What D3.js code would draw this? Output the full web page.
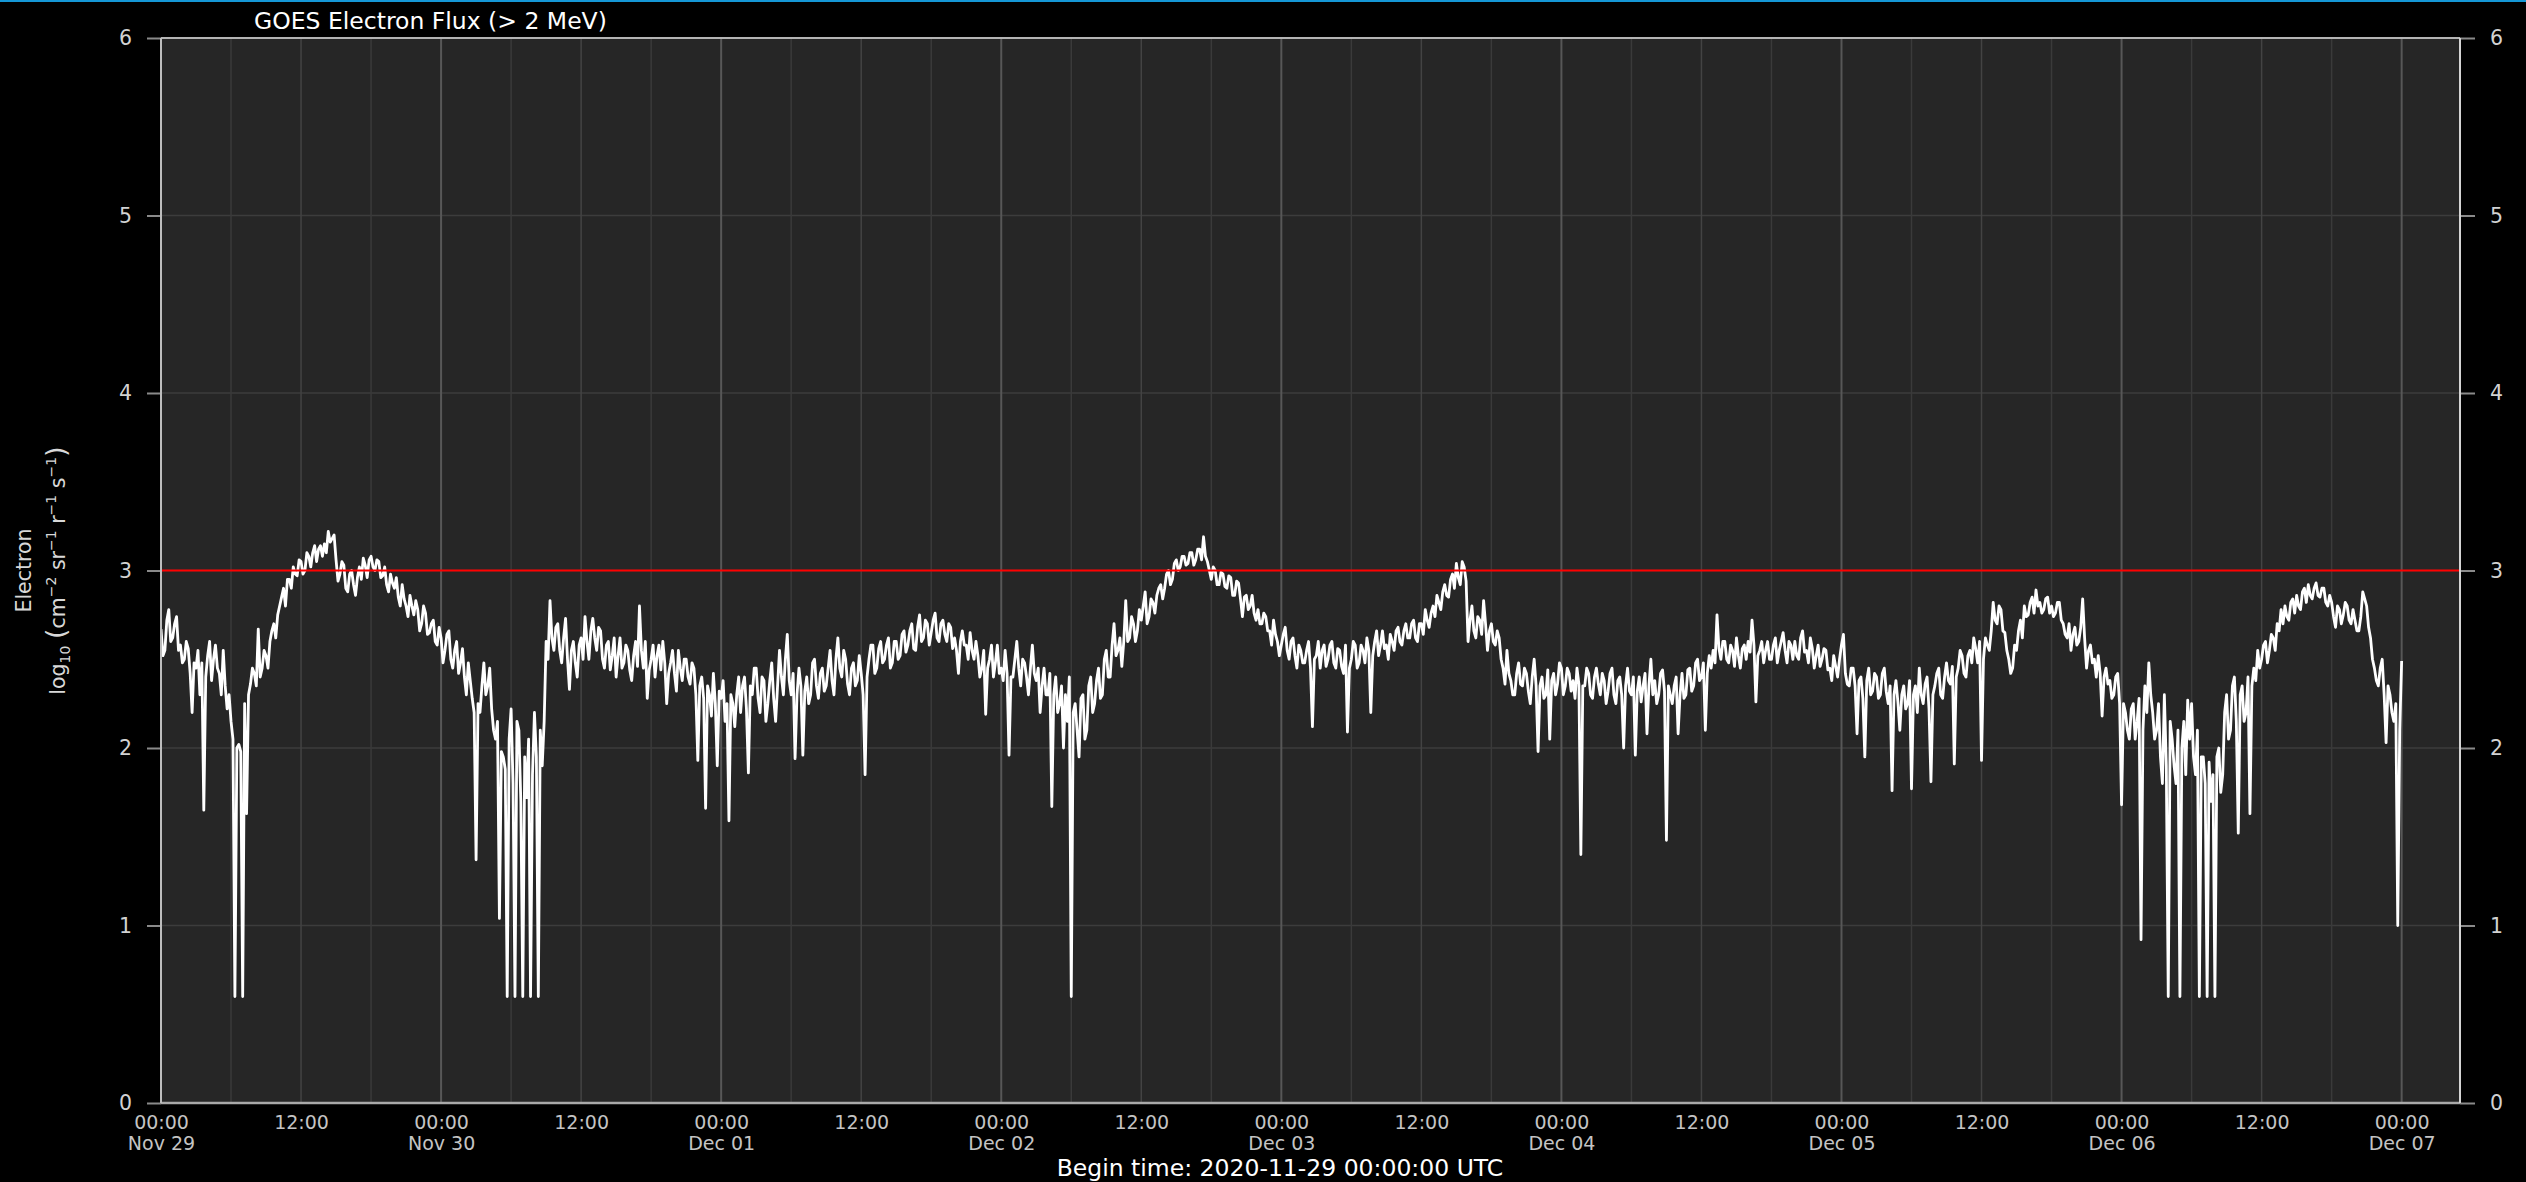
<!DOCTYPE html>
<html>
<head>
<meta charset="utf-8">
<script src="https://cdn.jsdelivr.net/npm/d3@7"></script>
<style>
  html, body { margin: 0; padding: 0; background: #000; }
  svg { display: block; font-family: "DejaVu Sans", sans-serif; }
</style>
</head>
<body>
<svg id="chart" width="2526" height="1182"></svg>
<script>
// ---- data ----------------------------------------------------------------
const chartTitle = "GOES Electron Flux (> 2 MeV)";
const beginLabel = "Begin time: 2020-11-29 00:00:00 UTC";
const startTime = Date.UTC(2020, 10, 29, 0, 0, 0);
const endTime = Date.UTC(2020, 11, 7, 5, 0, 0);
const cadenceMinutes = 10;          // one sample every 10 minutes
const alertLevel = 3;               // log10 flux alert threshold
const yTickValues = [0, 1, 2, 3, 4, 5, 6];

// log10 electron flux, 6 samples per hour (one row = one hour) from Nov 29 00:00 UTC
const flux = [
  // Nov 29
  2.67, 2.52, 2.55, 2.72, 2.78, 2.60,
  2.62, 2.70, 2.74, 2.55, 2.58, 2.48,
  2.50, 2.60, 2.56, 2.42, 2.20, 2.48,
  2.45, 2.55, 2.30, 2.48, 1.65, 2.40,
  2.52, 2.60, 2.38, 2.50, 2.58, 2.45,
  2.42, 2.30, 2.55, 2.35, 2.22, 2.30,
  2.15, 2.05, 0.60, 2.00, 2.02, 1.98,
  0.60, 2.25, 1.63, 2.30, 2.36, 2.45,
  2.42, 2.35, 2.67, 2.40, 2.45, 2.55,
  2.52, 2.45, 2.60, 2.66, 2.70, 2.62,
  2.75, 2.80, 2.85, 2.90, 2.80, 2.95,
  2.95, 2.90, 3.02, 2.98, 2.97, 3.06,
  3.05, 2.98, 3.00, 3.10, 3.08, 3.02,
  3.10, 3.14, 3.05, 3.12, 3.14, 3.08,
  3.15, 3.10, 3.22, 3.16, 3.18, 3.20,
  3.06, 2.94, 2.98, 3.05, 3.03, 2.90,
  2.88, 2.98, 3.00, 2.92, 2.86, 2.96,
  3.02, 2.95, 3.07, 3.03, 2.96, 3.06,
  3.08, 3.02, 3.00, 3.06, 3.05, 2.96,
  2.97, 3.02, 2.92, 2.88, 2.98, 2.93,
  2.90, 2.96, 2.85, 2.80, 2.92, 2.84,
  2.80, 2.74, 2.86, 2.80, 2.75, 2.83,
  2.78, 2.66, 2.70, 2.80, 2.76, 2.64,
  2.65, 2.70, 2.72, 2.60, 2.58, 2.68,
  // Nov 30
  2.62, 2.48, 2.55, 2.64, 2.66, 2.50,
  2.45, 2.55, 2.60, 2.42, 2.48, 2.56,
  2.40, 2.30, 2.48, 2.38, 2.28, 2.20,
  1.37, 2.25, 2.20, 2.35, 2.48, 2.30,
  2.35, 2.45, 2.22, 2.10, 2.05, 2.15,
  1.04, 1.98, 1.95, 1.88, 0.60, 2.05,
  2.22, 1.80, 0.60, 2.15, 2.10, 1.70,
  0.60, 1.95, 1.72, 2.05, 0.60, 1.85,
  2.20, 1.95, 0.60, 2.10, 1.90, 2.15,
  2.60, 2.50, 2.83, 2.62, 2.55, 2.68,
  2.70, 2.55, 2.48, 2.62, 2.73, 2.50,
  2.33, 2.55, 2.60, 2.48, 2.40, 2.58,
  2.62, 2.50, 2.74, 2.60, 2.50, 2.66,
  2.73, 2.62, 2.55, 2.68, 2.66, 2.50,
  2.45, 2.58, 2.60, 2.44, 2.52, 2.62,
  2.40, 2.52, 2.62, 2.45, 2.48, 2.58,
  2.55, 2.44, 2.38, 2.52, 2.60, 2.46,
  2.80, 2.55, 2.45, 2.60, 2.28, 2.44,
  2.50, 2.58, 2.40, 2.52, 2.58, 2.44,
  2.60, 2.48, 2.25, 2.42, 2.48, 2.55,
  2.42, 2.32, 2.55, 2.45, 2.38, 2.50,
  2.50, 2.40, 2.36, 2.48, 2.45, 2.30,
  1.93, 2.35, 2.40, 2.28, 1.66, 2.35,
  2.30, 2.18, 2.42, 2.25, 1.90, 2.32,
  // Dec 01
  2.28, 2.38, 2.15, 2.25, 1.59, 2.30,
  2.25, 2.12, 2.30, 2.40, 2.20, 2.35,
  2.40, 2.22, 1.86, 2.35, 2.30, 2.45,
  2.45, 2.28, 2.20, 2.40, 2.38, 2.15,
  2.25, 2.38, 2.48, 2.28, 2.15, 2.35,
  2.55, 2.40, 2.30, 2.50, 2.64, 2.38,
  2.30, 2.42, 1.94, 2.30, 2.45, 2.35,
  1.96, 2.32, 2.40, 2.25, 2.30, 2.48,
  2.50, 2.35, 2.28, 2.42, 2.45, 2.32,
  2.35, 2.45, 2.55, 2.38, 2.30, 2.50,
  2.62, 2.45, 2.40, 2.55, 2.50, 2.36,
  2.30, 2.45, 2.48, 2.35, 2.38, 2.52,
  2.42, 2.30, 1.85, 2.40, 2.50, 2.58,
  2.58, 2.42, 2.45, 2.56, 2.60, 2.48,
  2.50, 2.58, 2.62, 2.45, 2.48, 2.60,
  2.60, 2.50, 2.52, 2.64, 2.66, 2.54,
  2.58, 2.66, 2.70, 2.56, 2.55, 2.68,
  2.75, 2.60, 2.62, 2.72, 2.70, 2.58,
  2.65, 2.72, 2.76, 2.62, 2.60, 2.70,
  2.72, 2.64, 2.60, 2.70, 2.68, 2.56,
  2.62, 2.55, 2.42, 2.60, 2.66, 2.58,
  2.58, 2.50, 2.65, 2.55, 2.50, 2.60,
  2.52, 2.40, 2.45, 2.55, 2.19, 2.45,
  2.50, 2.58, 2.40, 2.48, 2.58, 2.42,
  // Dec 02
  2.45, 2.38, 2.55, 2.42, 1.96, 2.40,
  2.40, 2.50, 2.60, 2.45, 2.35, 2.50,
  2.48, 2.40, 2.30, 2.45, 2.58, 2.42,
  2.38, 2.45, 2.20, 2.35, 2.45, 2.30,
  2.30, 2.42, 1.67, 2.30, 2.40, 2.20,
  2.25, 2.35, 2.00, 2.30, 2.15, 2.40,
  0.60, 2.20, 2.25, 2.10, 1.95, 2.28,
  2.30, 2.05, 2.10, 2.35, 2.40, 2.20,
  2.25, 2.38, 2.45, 2.28, 2.30, 2.50,
  2.55, 2.40, 2.40, 2.58, 2.70, 2.52,
  2.55, 2.62, 2.46, 2.60, 2.83, 2.60,
  2.62, 2.74, 2.70, 2.60, 2.66, 2.78,
  2.72, 2.80, 2.88, 2.70, 2.74, 2.84,
  2.82, 2.76, 2.86, 2.90, 2.92, 2.84,
  2.90, 2.98, 3.00, 2.92, 2.95, 3.04,
  3.06, 3.00, 3.02, 3.08, 3.08, 3.03,
  3.04, 3.10, 3.10, 3.03, 3.06, 3.12,
  3.12, 3.06, 3.19, 3.08, 3.05, 3.00,
  2.95, 3.02, 3.00, 2.92, 2.92, 2.99,
  2.98, 2.91, 2.90, 2.97, 2.96, 2.86,
  2.86, 2.94, 2.93, 2.84, 2.74, 2.85,
  2.86, 2.78, 2.80, 2.86, 2.76, 2.72,
  2.78, 2.70, 2.70, 2.76, 2.74, 2.66,
  2.66, 2.58, 2.72, 2.64, 2.60, 2.52,
  // Dec 03
  2.58, 2.64, 2.68, 2.55, 2.50, 2.60,
  2.62, 2.52, 2.45, 2.58, 2.55, 2.48,
  2.48, 2.55, 2.60, 2.45, 2.12, 2.50,
  2.52, 2.60, 2.45, 2.55, 2.58, 2.46,
  2.50, 2.58, 2.60, 2.48, 2.45, 2.56,
  2.55, 2.46, 2.42, 2.58, 2.09, 2.45,
  2.50, 2.60, 2.58, 2.45, 2.48, 2.58,
  2.55, 2.48, 2.62, 2.55, 2.20, 2.52,
  2.60, 2.66, 2.52, 2.58, 2.66, 2.56,
  2.58, 2.50, 2.64, 2.60, 2.55, 2.66,
  2.68, 2.60, 2.58, 2.66, 2.70, 2.62,
  2.62, 2.70, 2.72, 2.62, 2.60, 2.70,
  2.70, 2.64, 2.78, 2.72, 2.68, 2.76,
  2.80, 2.74, 2.86, 2.82, 2.78, 2.88,
  2.92, 2.86, 2.85, 2.95, 2.98, 2.90,
  3.04, 2.96, 2.92, 3.05, 3.02, 2.94,
  2.60, 2.72, 2.80, 2.66, 2.62, 2.74,
  2.72, 2.64, 2.83, 2.70, 2.55, 2.66,
  2.70, 2.60, 2.58, 2.66, 2.62, 2.50,
  2.45, 2.36, 2.55, 2.42, 2.38, 2.30,
  2.30, 2.42, 2.48, 2.36, 2.35, 2.45,
  2.42, 2.32, 2.25, 2.40, 2.50, 2.35,
  1.98, 2.35, 2.40, 2.28, 2.30, 2.44,
  2.05, 2.38, 2.42, 2.30, 2.36, 2.48,
  // Dec 04
  2.45, 2.30, 2.35, 2.45, 2.42, 2.32,
  2.38, 2.28, 2.45, 2.36, 1.40, 2.35,
  2.35, 2.45, 2.42, 2.30, 2.28, 2.40,
  2.45, 2.36, 2.30, 2.42, 2.38, 2.25,
  2.32, 2.42, 2.45, 2.30, 2.25, 2.38,
  2.40, 2.30, 2.00, 2.35, 2.45, 2.32,
  2.30, 2.40, 1.96, 2.32, 2.40, 2.26,
  2.35, 2.42, 2.08, 2.35, 2.50, 2.30,
  2.38, 2.25, 2.30, 2.42, 2.44, 2.32,
  1.48, 2.35, 2.30, 2.25, 2.35, 2.40,
  2.08, 2.30, 2.42, 2.28, 2.30, 2.44,
  2.45, 2.32, 2.35, 2.48, 2.50, 2.38,
  2.40, 2.48, 2.10, 2.42, 2.52, 2.45,
  2.55, 2.48, 2.75, 2.56, 2.50, 2.60,
  2.60, 2.50, 2.48, 2.58, 2.55, 2.46,
  2.62, 2.52, 2.45, 2.56, 2.58, 2.50,
  2.60, 2.54, 2.72, 2.58, 2.26, 2.52,
  2.55, 2.60, 2.48, 2.55, 2.60, 2.50,
  2.50, 2.58, 2.62, 2.48, 2.55, 2.60,
  2.65, 2.55, 2.48, 2.60, 2.58, 2.50,
  2.60, 2.52, 2.50, 2.62, 2.66, 2.54,
  2.55, 2.48, 2.62, 2.56, 2.45, 2.52,
  2.58, 2.46, 2.50, 2.56, 2.55, 2.44,
  2.45, 2.38, 2.52, 2.46, 2.40, 2.50,
  // Dec 05
  2.58, 2.64, 2.42, 2.36, 2.35, 2.45,
  2.45, 2.35, 2.08, 2.38, 2.40, 2.28,
  1.95, 2.38, 2.45, 2.30, 2.32, 2.42,
  2.40, 2.28, 2.30, 2.42, 2.45, 2.32,
  2.25, 2.35, 1.76, 2.30, 2.38, 2.26,
  2.10, 2.30, 2.35, 2.22, 2.25, 2.38,
  1.77, 2.30, 2.35, 2.20, 2.45, 2.30,
  2.25, 2.36, 2.40, 2.22, 1.81, 2.30,
  2.35, 2.42, 2.45, 2.30, 2.28, 2.40,
  2.48, 2.38, 2.36, 2.46, 1.91, 2.40,
  2.45, 2.55, 2.52, 2.42, 2.40, 2.52,
  2.55, 2.48, 2.62, 2.56, 2.48, 2.60,
  1.93, 2.50, 2.62, 2.58, 2.55, 2.66,
  2.82, 2.72, 2.70, 2.80, 2.78, 2.66,
  2.65, 2.55, 2.50, 2.42, 2.45, 2.58,
  2.55, 2.66, 2.72, 2.62, 2.80, 2.74,
  2.75, 2.82, 2.85, 2.76, 2.89, 2.80,
  2.82, 2.76, 2.78, 2.84, 2.85, 2.76,
  2.80, 2.74, 2.76, 2.82, 2.82, 2.72,
  2.70, 2.64, 2.62, 2.70, 2.55, 2.64,
  2.68, 2.58, 2.60, 2.68, 2.84, 2.62,
  2.45, 2.55, 2.58, 2.48, 2.50, 2.40,
  2.52, 2.42, 2.18, 2.40, 2.45, 2.36,
  2.38, 2.28, 2.30, 2.40, 2.42, 2.25,
  // Dec 06
  1.68, 2.25, 2.20, 2.10, 2.05, 2.22,
  2.25, 2.05, 2.15, 2.28, 0.92, 2.10,
  2.35, 2.20, 2.48, 2.30, 2.20, 2.05,
  2.10, 2.25, 1.95, 1.80, 2.30, 1.90,
  0.60, 2.15, 2.05, 1.90, 1.80, 2.10,
  0.60, 2.00, 2.15, 1.85, 2.27, 2.05,
  2.25, 1.95, 1.85, 2.10, 0.60, 1.95,
  1.95, 1.80, 0.60, 1.92, 1.70, 1.85,
  0.60, 1.95, 2.00, 1.75, 1.85, 2.20,
  2.30, 2.05, 2.10, 2.35, 2.40, 2.15,
  1.52, 2.30, 2.35, 2.15, 2.20, 2.40,
  1.63, 2.35, 2.45, 2.38, 2.55, 2.45,
  2.50, 2.58, 2.60, 2.48, 2.55, 2.64,
  2.62, 2.55, 2.70, 2.66, 2.78, 2.70,
  2.80, 2.74, 2.72, 2.82, 2.84, 2.76,
  2.86, 2.80, 2.78, 2.88, 2.90, 2.82,
  2.92, 2.86, 2.84, 2.90, 2.93, 2.86,
  2.85, 2.90, 2.90, 2.82, 2.80, 2.86,
  2.82, 2.74, 2.68, 2.80, 2.78, 2.70,
  2.75, 2.82, 2.80, 2.72, 2.70, 2.78,
  2.72, 2.66, 2.66, 2.74, 2.88, 2.84,
  2.80, 2.68, 2.62, 2.50, 2.45, 2.38,
  2.35, 2.45, 2.50, 2.30, 2.03, 2.35,
  2.30, 2.20, 2.15, 2.25, 1.00, 2.10,
  // Dec 07
  2.49
];

// ---- layout --------------------------------------------------------------
const W = 2526, H = 1182;
const plot = { left: 161, right: 2460, top: 38, bottom: 1103 };

const svg = d3.select("#chart");

const x = d3.scaleUtc()
  .domain([new Date(startTime), new Date(endTime)])
  .range([plot.left, plot.right]);

const y = d3.scaleLinear()
  .domain([0, 6])
  .range([plot.bottom, plot.top]);

const series = flux.map((v, i) => ({
  t: new Date(startTime + i * cadenceMinutes * 60000),
  v
}));

// page background and top accent stripe
svg.append("rect").attr("width", W).attr("height", H).attr("fill", "#000");
svg.append("rect").attr("x", 0).attr("y", 0).attr("width", W).attr("height", 2)
  .attr("fill", "#1597d6");

// plot panel
svg.append("rect")
  .attr("x", plot.left).attr("y", plot.top)
  .attr("width", plot.right - plot.left).attr("height", plot.bottom - plot.top)
  .attr("fill", "#262626");

// horizontal grid
svg.append("g").selectAll("line")
  .data(yTickValues.filter(d => d > 0 && d < 6))
  .join("line")
  .attr("x1", plot.left).attr("x2", plot.right)
  .attr("y1", d => y(d)).attr("y2", d => y(d))
  .attr("stroke", "#3c3c3c").attr("stroke-width", 1.5);

// vertical grid every 6 hours, stronger at midnight
const gridTimes = d3.utcHour.every(6).range(new Date(startTime), new Date(endTime));
svg.append("g").selectAll("line")
  .data(gridTimes.filter(d => +d > startTime))
  .join("line")
  .attr("x1", d => x(d)).attr("x2", d => x(d))
  .attr("y1", plot.top).attr("y2", plot.bottom)
  .attr("stroke", d => d.getUTCHours() === 0 ? "#575757" : (d.getUTCHours() === 12 ? "#434343" : "#3a3a3a"))
  .attr("stroke-width", d => d.getUTCHours() === 0 ? 2 : 1.5);

// clip for the data
svg.append("clipPath").attr("id", "plot-clip")
  .append("rect")
  .attr("x", plot.left).attr("y", plot.top)
  .attr("width", plot.right - plot.left).attr("height", plot.bottom - plot.top);

const line = d3.line()
  .x(d => x(d.t))
  .y(d => y(d.v));

svg.append("path")
  .datum(series)
  .attr("clip-path", "url(#plot-clip)")
  .attr("fill", "none")
  .attr("stroke", "#ffffff")
  .attr("stroke-width", 2.8)
  .attr("stroke-linejoin", "round")
  .attr("d", line);

// alert threshold
svg.append("line")
  .attr("x1", plot.left).attr("x2", plot.right)
  .attr("y1", y(alertLevel)).attr("y2", y(alertLevel))
  .attr("stroke", "#ff0000").attr("stroke-width", 2);

// ---- axes ----------------------------------------------------------------
const yLeft = svg.append("g")
  .attr("transform", `translate(${plot.left},0)`)
  .call(d3.axisLeft(y).tickValues(yTickValues).tickFormat(d3.format("d"))
    .tickSize(14).tickPadding(15));

const yRight = svg.append("g")
  .attr("transform", `translate(${plot.right},0)`)
  .call(d3.axisRight(y).tickValues(yTickValues).tickFormat(d3.format("d"))
    .tickSize(15).tickPadding(15));

[yLeft, yRight].forEach(g => {
  g.select(".domain").remove();
  g.selectAll(".tick line").attr("stroke", "#8a8a8a").attr("stroke-width", 2);
  g.selectAll(".tick text")
    .attr("fill", "#d2d2d2")
    .style("font-family", "'DejaVu Sans', sans-serif")
    .style("font-size", "20.5px");
});

const xAxis = svg.append("g")
  .attr("transform", `translate(0,${plot.bottom})`)
  .call(d3.axisBottom(x)
    .tickValues(d3.utcHour.every(12).range(new Date(startTime), new Date(endTime)))
    .tickSize(0).tickFormat(""));
xAxis.select(".domain").remove();

const fmtTime = d3.utcFormat("%H:%M");
const fmtDate = d3.utcFormat("%b %d");
xAxis.selectAll(".tick").each(function (d) {
  const t = d3.select(this).select("text")
    .attr("y", 0).attr("dy", null)
    .attr("fill", "#c4c4c4")
    .style("font-family", "'DejaVu Sans', sans-serif")
    .style("font-size", "19px")
    .text(null);
  t.append("tspan").attr("x", 0).attr("y", 26).text(fmtTime(d));
  if (d.getUTCHours() === 0) {
    t.append("tspan").attr("x", 0).attr("y", 47).text(fmtDate(d));
  }
});

// frame
svg.append("line").attr("x1", plot.left).attr("x2", plot.right)
  .attr("y1", plot.top).attr("y2", plot.top)
  .attr("stroke", "#b4b4b4").attr("stroke-width", 2);
svg.append("line").attr("x1", plot.left).attr("x2", plot.right)
  .attr("y1", plot.bottom).attr("y2", plot.bottom)
  .attr("stroke", "#a9a9a9").attr("stroke-width", 2.5);
svg.append("line").attr("x1", plot.left).attr("x2", plot.left)
  .attr("y1", plot.top).attr("y2", plot.bottom)
  .attr("stroke", "#bdbdbd").attr("stroke-width", 2);
svg.append("line").attr("x1", plot.right).attr("x2", plot.right)
  .attr("y1", plot.top).attr("y2", plot.bottom)
  .attr("stroke", "#d4d4d4").attr("stroke-width", 2);

// ---- titles --------------------------------------------------------------
svg.append("text")
  .attr("x", 254).attr("y", 29)
  .attr("fill", "#ffffff")
  .style("font-size", "23.5px")
  .text(chartTitle);

svg.append("text")
  .attr("x", 1280).attr("y", 1176)
  .attr("text-anchor", "middle")
  .attr("fill", "#ffffff")
  .style("font-size", "23.5px")
  .text(beginLabel);

// y-axis label (two rotated lines)
const midY = (plot.top + plot.bottom) / 2;
svg.append("text")
  .attr("transform", `translate(31,${midY}) rotate(-90)`)
  .attr("text-anchor", "middle")
  .attr("fill", "#d8d8d8")
  .style("font-size", "20.5px")
  .text("Electron");

const unit = svg.append("text")
  .attr("transform", `translate(65,${midY}) rotate(-90)`)
  .attr("text-anchor", "middle")
  .attr("fill", "#d8d8d8")
  .style("font-size", "20.5px");
unit.append("tspan").text("log");
unit.append("tspan").attr("dy", 5).style("font-size", "14px").text("10");
unit.append("tspan").attr("dy", -5).text(" ");
unit.append("tspan").style("font-size", "27px").text("(");
unit.append("tspan").text("cm");
unit.append("tspan").attr("dy", -9).style("font-size", "14px").text("\u22122");
unit.append("tspan").attr("dy", 9).text(" sr");
unit.append("tspan").attr("dy", -9).style("font-size", "14px").text("\u22121");
unit.append("tspan").attr("dy", 9).text(" r");
unit.append("tspan").attr("dy", -9).style("font-size", "14px").text("\u22121");
unit.append("tspan").attr("dy", 9).text(" s");
unit.append("tspan").attr("dy", -9).style("font-size", "14px").text("\u22121");
unit.append("tspan").attr("dy", 9).style("font-size", "27px").text(")");
</script>
</body>
</html>
